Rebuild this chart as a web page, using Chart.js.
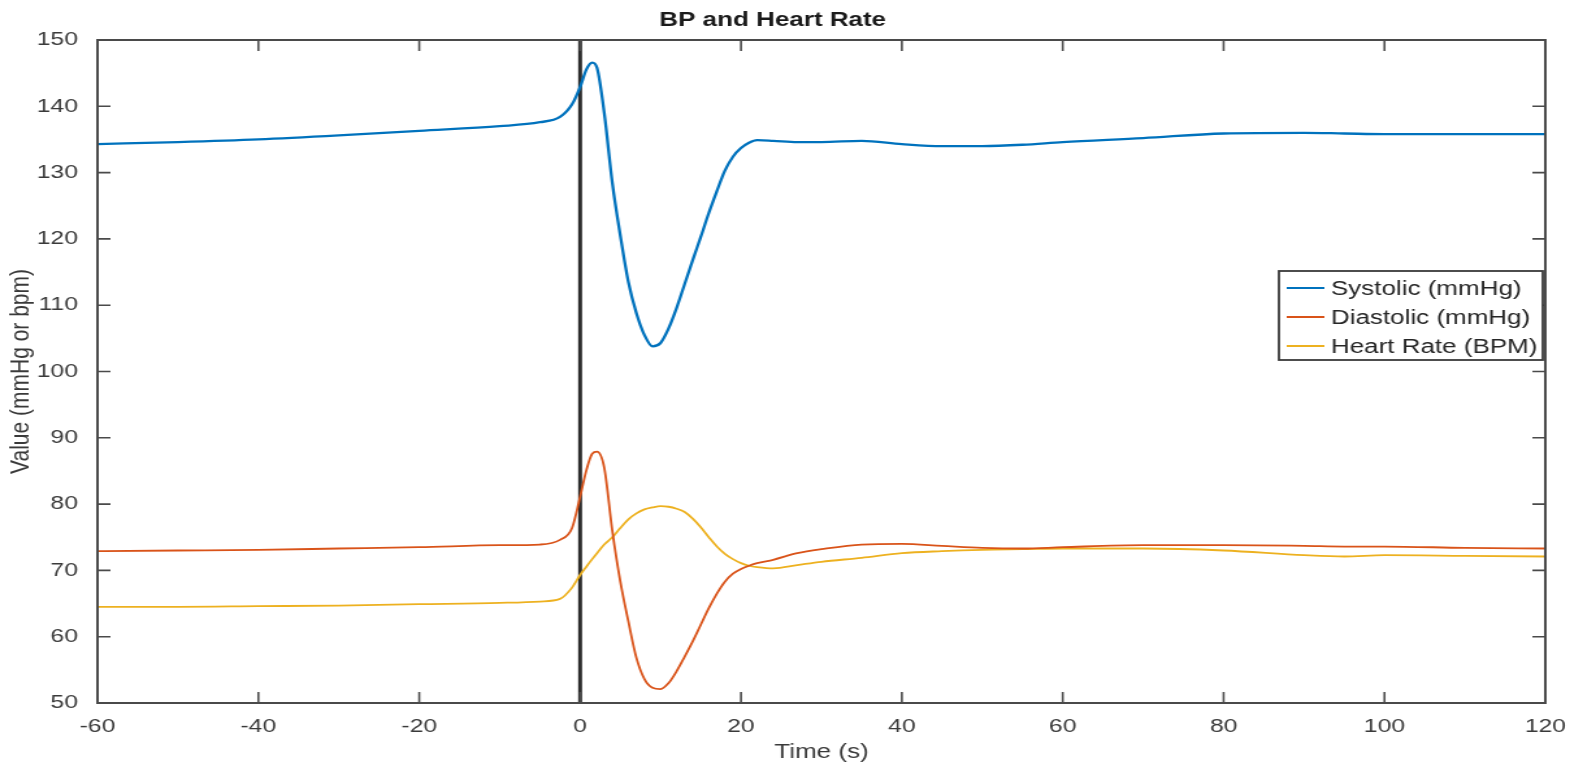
<!DOCTYPE html>
<html>
<head>
<meta charset="utf-8">
<title>BP and Heart Rate</title>
<script src="https://cdn.jsdelivr.net/npm/chart.js@4.4.1/dist/chart.umd.min.js"></script>
<style>
    html,body{margin:0;padding:0;background:#fff;overflow:hidden;}
    /* the original figure is stretched sideways, so draw narrow and stretch */
    #wrap{width:1218px;height:767px;transform:scaleX(1.2997);transform-origin:0 0;}
</style>
</head>
<body>
<div id="wrap"><canvas id="bp" width="1218" height="767"></canvas></div>
<script>
// time in seconds
let timeS = [-60,-50,-40,-30,-20,-10,-5,-2.5,-1,0,0.8,1.5,2.1,3,4,5,6,7,8,9,10,11,12,13,14,15,16,17,18,19,20,21,22,24,27,30,35,40,45,50,55,60,70,80,90,95,100,110,120];
let systolic = [134.3,134.6,135.0,135.6,136.3,137.0,137.6,138.4,140.3,142.9,145.6,146.6,145.8,139.0,128.5,120.5,113.5,108.8,105.5,103.8,104.3,106.5,109.6,113.2,116.8,120.3,123.9,127.2,130.3,132.4,133.7,134.5,134.9,134.8,134.6,134.6,134.8,134.3,134.0,134.0,134.2,134.6,135.2,135.9,136.0,135.9,135.8,135.8,135.8];
let diastolic = [72.9,73.0,73.1,73.3,73.5,73.8,73.9,74.6,76.4,81.1,85.2,87.6,87.9,85.5,76.0,68.3,62.3,56.8,53.6,52.3,52.1,53.0,54.8,57.0,59.3,61.8,64.3,66.5,68.3,69.5,70.2,70.7,71.1,71.6,72.6,73.2,73.9,74.0,73.7,73.4,73.3,73.5,73.8,73.8,73.7,73.6,73.6,73.4,73.3];
let heartRate = [64.5,64.5,64.6,64.7,64.9,65.1,65.3,65.7,67.4,69.3,70.6,71.7,72.6,73.9,75.0,76.4,77.7,78.6,79.2,79.5,79.7,79.6,79.3,78.8,77.8,76.5,75.0,73.6,72.5,71.7,71.1,70.7,70.5,70.3,70.8,71.3,71.9,72.6,72.9,73.1,73.2,73.3,73.3,73.0,72.3,72.1,72.3,72.2,72.1];
let seriesNames = ['Systolic (mmHg)','Diastolic (mmHg)','Heart Rate (BPM)'];
let eventTime = [0,0];
let eventRange = [50,150];
let xTicks = [-60,-40,-20,0,20,40,60,80,100,120];
let yTicks = [50,60,70,80,90,100,110,120,130,140,150];

const FONT = '"Liberation Sans", Arial, Helvetica, sans-serif';

function toPoints(xs,ys){
    let pts = [];
    for(let i=0;i<xs.length;i++){
        pts.push({x:xs[i],y:ys[i]});
    }
    return pts;
}

// axes box, inward ticks and the legend, matlab style
const matlabAxes = {
    id:'matlabAxes',
    afterDraw(chart){
        let ctx = chart.ctx;
        let a = chart.chartArea;
        let xs = chart.scales.x, ys = chart.scales.y;
        ctx.save();
        ctx.strokeStyle = '#4a4a4a';
        ctx.lineWidth = 1.6;
        for(let v of xTicks){
            let px = xs.getPixelForValue(v);
            ctx.beginPath();
            ctx.moveTo(px,a.bottom); ctx.lineTo(px,a.bottom-11);
            ctx.moveTo(px,a.top); ctx.lineTo(px,a.top+11);
            ctx.stroke();
        }
        for(let v of yTicks){
            let py = ys.getPixelForValue(v);
            ctx.beginPath();
            ctx.moveTo(a.left,py); ctx.lineTo(a.left+10,py);
            ctx.moveTo(a.right,py); ctx.lineTo(a.right-10,py);
            ctx.stroke();
        }
        ctx.lineWidth = 2;
        ctx.strokeRect(a.left,a.top,a.right-a.left,a.bottom-a.top);

        // legend
        let bx = 984, by = 271, bw = 203, bh = 89;
        ctx.fillStyle = '#fff';
        ctx.fillRect(bx,by,bw,bh);
        ctx.strokeStyle = '#3a3a3a';
        ctx.lineWidth = 1.8;
        ctx.strokeRect(bx,by,bw,bh);
        ctx.font = '20px ' + FONT;
        ctx.textBaseline = 'middle';
        ctx.textAlign = 'left';
        let row = 0;
        chart.data.datasets.forEach(ds => {
            if(!ds.label) return;
            let cy = by + 17 + row*29;
            ctx.strokeStyle = ds.borderColor;
            ctx.lineWidth = 2;
            ctx.beginPath();
            ctx.moveTo(bx+6,cy); ctx.lineTo(bx+35,cy);
            ctx.stroke();
            ctx.fillStyle = '#262626';
            ctx.fillText(ds.label,bx+40,cy+1);
            row++;
        });
        ctx.restore();
    }
};

function drawChart(){
    let cxt = document.getElementById('bp');
    let _data = {
        datasets:[
            {
                label:seriesNames[0],
                data:toPoints(timeS,systolic),
                borderColor:'#0072BD',
                borderWidth:2.3
            },
            {
                label:seriesNames[1],
                data:toPoints(timeS,diastolic),
                borderColor:'#D95319',
                borderWidth:1.8
            },
            {
                label:seriesNames[2],
                data:toPoints(timeS,heartRate),
                borderColor:'#EDB120',
                borderWidth:1.8
            },
            {
                label:'',
                data:toPoints(eventTime,eventRange),
                borderColor:'#2b2b2b',
                borderWidth:3,
                cubicInterpolationMode:'default',
                tension:0
            }
        ]
    };
    let _options = {
        responsive:false,
        animation:false,
        devicePixelRatio:1,
        layout:{padding:{left:0,right:29,top:0,bottom:0}},
        elements:{
            point:{radius:0},
            line:{cubicInterpolationMode:'monotone',fill:false}
        },
        plugins:{
            legend:{display:false},
            tooltip:{enabled:false},
            title:{
                display:true,
                text:'BP and Heart Rate',
                color:'#1a1a1a',
                font:{family:FONT,size:20,weight:'bold'},
                padding:{top:8,bottom:8}
            }
        },
        scales:{
            x:{
                type:'linear',
                min:-60,
                max:120,
                afterFit:s => { s.height = 64; },
                grid:{display:false},
                border:{display:false},
                ticks:{
                    stepSize:20,
                    padding:4,
                    maxRotation:0,
                    color:'#3a3a3a',
                    font:{family:FONT,size:19}
                },
                title:{
                    display:true,
                    text:'Time (s)',
                    color:'#3a3a3a',
                    font:{family:FONT,size:20},
                    padding:{top:0,bottom:3}
                }
            },
            y:{
                type:'linear',
                min:50,
                max:150,
                afterFit:s => { s.width = 75; },
                grid:{display:false},
                border:{display:false},
                ticks:{
                    stepSize:10,
                    padding:7,
                    color:'#3a3a3a',
                    font:{family:FONT,size:19}
                },
                title:{
                    display:true,
                    text:'Value (mmHg or bpm)',
                    color:'#3a3a3a',
                    font:{family:FONT,size:21},
                    padding:{top:4,bottom:0}
                }
            }
        }
    };
    new Chart(cxt,{
        type:'line',
        data:_data,
        options:_options,
        plugins:[matlabAxes]
    });
}
drawChart();
</script>
</body>
</html>
